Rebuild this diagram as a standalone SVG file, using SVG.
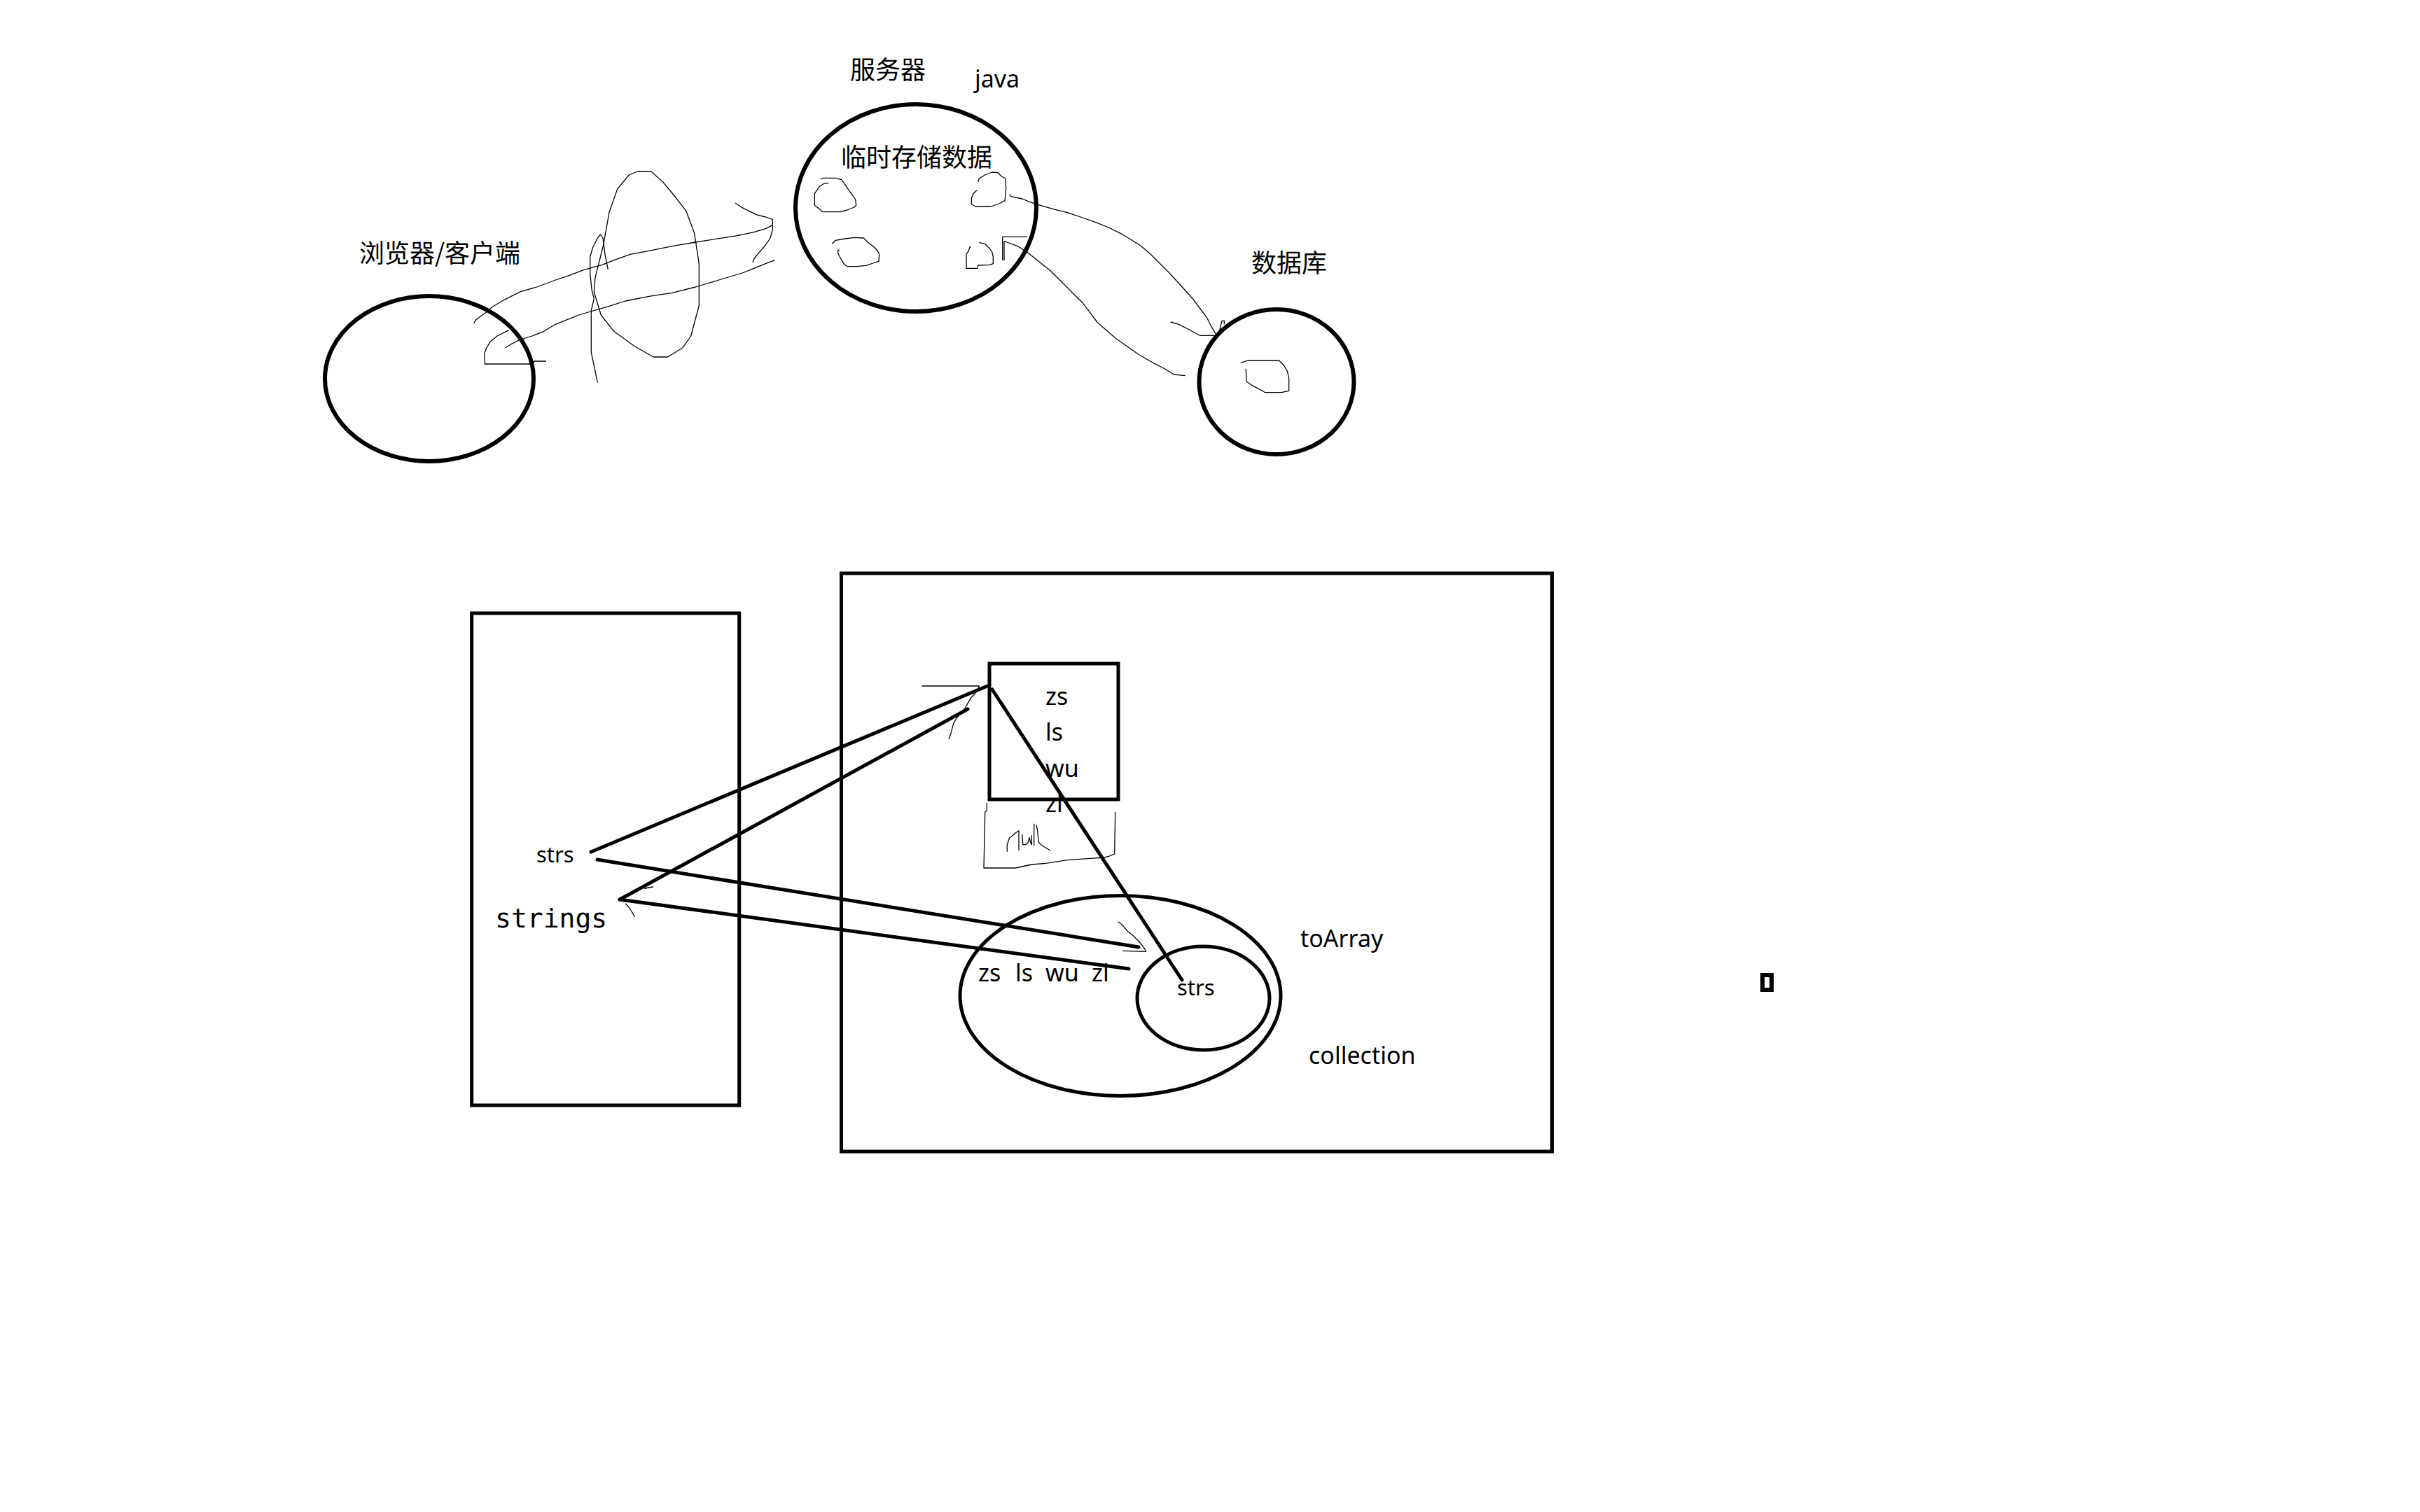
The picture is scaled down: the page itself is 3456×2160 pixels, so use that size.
<svg xmlns="http://www.w3.org/2000/svg" width="3456" height="2160" viewBox="0 0 3456 2160">
<style>
.bold{fill:none;stroke:#000;stroke-width:6}
.box{fill:none;stroke:#000;stroke-width:5}
.thick{fill:none;stroke:#000;stroke-width:5;stroke-linecap:round}
.thin{fill:none;stroke:#000;stroke-width:1.3;stroke-linejoin:round}
.cjk{font-family:"Noto Sans CJK SC","Noto Sans",sans-serif;font-size:36px;fill:#000}
.lat{font-family:"Noto Sans","Noto Sans CJK SC",sans-serif;font-size:34px;fill:#000}
.sm{font-family:"Noto Sans",sans-serif;font-size:31px;fill:#000}
.mono{font-family:"DejaVu Sans Mono","Liberation Mono",monospace;font-size:38px;fill:#000}
</style>
<rect width="3456" height="2160" fill="#fff"/>

<g id="browser">
<ellipse class="bold" cx="613" cy="541" rx="149" ry="118"/>
<text class="cjk" x="513" y="375">浏览器/客户端</text>
</g>

<g id="server">
<ellipse class="bold" cx="1308" cy="297" rx="172" ry="148"/>
<text class="cjk" x="1214" y="113">服务器</text>
<text class="lat" x="1392" y="125">java</text>
<text class="cjk" x="1201" y="238">临时存储数据</text>
<path class="thin" d="M1183.3,261.7 L1176.7,262.3 L1170,266.7 L1166.7,271.7 L1163.3,276.7 L1163.3,293.3 L1170,298.3 L1175,302.7 L1200,302.7 L1210,300 L1220,296 L1222.7,293.3 L1221.7,285 L1218.3,280 L1213.3,273.3 L1206.7,263.3 L1201.7,256.7 L1193.3,254.3 L1176.7,254.3 L1172.3,256"/>
<path class="thin" d="M1395,271.7 L1390,276.7 L1387.3,283.3 L1387.3,291.7 L1393.3,295 L1415,295 L1426.7,291 L1435,286.7 L1436.7,270 L1436,255 L1430,251.7 L1425,246.7 L1416.7,246 L1406.7,250 L1398.3,255 L1396.7,260"/>
<path class="thin" d="M1188.3,348.3 L1193.3,343.3 L1206.7,341 L1220,339.3 L1233.3,340 L1240,346.7 L1246.7,351.7 L1253.3,358.3 L1255.7,363.3 L1255,373.3 L1246.7,376 L1236.7,379.3 L1223.3,380.7 L1210,380.7 L1205,376.7 L1200,368.3 L1196.7,361.7 L1196.7,357.3 L1199,357.3"/>
<path class="thin" d="M1398.3,346.7 L1406.7,348.3 L1413.3,355 L1416.7,360 L1418.3,366.7 L1418.3,376.7 L1413.3,378.3 L1396.7,379 L1396,383.3 L1380,383.3 L1380,363.3 L1383.3,358.3 L1385,352.7 L1386.7,352.7"/>
</g>

<g id="database">
<ellipse class="bold" cx="1823" cy="545.5" rx="110.5" ry="103.5"/>
<text class="cjk" x="1787" y="389">数据库</text>
<path class="thin" d="M1771.7,518.3 L1781.7,515 L1826.7,515 L1833.3,521.7 L1838.3,530 L1840.7,540 L1840.7,558.3 L1830,560.7 L1806.7,560.7 L1800,556.7 L1790,551.7 L1780,545 L1779.3,526.7"/>
</g>

<g id="stack">
<rect class="box" x="673.7" y="876" width="382" height="703"/>
<text class="sm" x="766" y="1232">strs</text>
<text class="mono" x="707" y="1325">strings</text>
</g>

<g id="heap">
<rect class="box" x="1201.5" y="819" width="1015" height="826"/>
</g>

<g id="array">
<text class="lat" x="1493" y="1007">zs</text>
<text class="lat" x="1493" y="1058">ls</text>
<text class="lat" x="1493" y="1110">wu</text>
<text class="lat" x="1493" y="1160">zl</text>
<rect class="box" x="1413" y="948" width="184" height="194"/>
<path class="thin" d="M1409.3,1146.7 L1409.3,1158.3 L1406.7,1160 L1405,1240 L1450,1240 L1473.3,1235 L1493.3,1233.3 L1526.7,1228.3 L1553.3,1226.7 L1576.7,1225 L1583.3,1223.3 L1591.7,1220 L1592.7,1160"/>
<path class="thin" d="M1438.3,1216.7 L1438.3,1206.7 L1441.7,1196.7 L1446.7,1193.3 L1450,1190 L1455,1186.7 L1455,1215"/>
<path class="thin" d="M1460,1191.7 L1460.7,1206.7 L1465,1206.7 L1468.3,1203.3 L1470,1196.7 L1471.7,1203.3 L1473.3,1206.7 L1473.3,1193.3"/>
<path class="thin" d="M1476.7,1176.7 L1476.7,1208.3"/>
<path class="thin" d="M1480,1178.3 L1481.7,1186.7 L1483.3,1203.3 L1486.7,1206.7 L1491.7,1210 L1500,1215"/>
</g>

<g id="collection">
<ellipse class="box" cx="1600" cy="1422.5" rx="229" ry="143"/>
<text class="lat" x="1397" y="1402">zs</text>
<text class="lat" x="1450" y="1402">ls</text>
<text class="lat" x="1493" y="1402">wu</text>
<text class="lat" x="1559" y="1402">zl</text>
<text class="lat" x="1869" y="1520">collection</text>
</g>

<g id="toArray">
<ellipse class="box" cx="1718.5" cy="1426" rx="94.5" ry="74"/>
<text class="sm" x="1681" y="1422">strs</text>
<text class="lat" x="1857" y="1353">toArray</text>
</g>

<g id="marker-box">
<rect x="2517" y="1393" width="13" height="21" fill="none" stroke="#000" stroke-width="6"/>
</g>

<g id="connectors">
<!-- browser <-> server sketch -->
<path class="thin" d="M910,245 L930,245 L946.7,260 L963.3,280 L980,301.7 L991.7,333.3 L998.3,376.7 L998.3,436.7 L986.7,480 L975,496.7 L953.3,510 L933.3,510 L906.7,495 L876.7,473.3 L858.3,450 L848.3,416.7 L850,396.7 L861.7,350 L870,303.3 L881.7,270 L898.3,250 Z"/>
<path class="thin" d="M868.3,385 L864,363.3 L861,340 L857.7,335 L853.3,340 L846.7,353.3 L842.7,366.7 L842.7,390 L845,413.3 L848.3,426.7 L844.3,443.3 L844.3,503.3 L849.3,526.7 L853.3,546.7"/>
<path class="thin" d="M676.7,461.7 L680,456.7 L693.3,446.7 L703.3,438.3 L720,428.3 L743.3,416.7 L766.7,410 L793.3,400 L813.3,393.3 L833.3,385.7 L860,378.3 L876.7,371.7 L900,363.3 L926.7,358.3 L960,351.7 L993.3,346 L1010,343.3 L1053.3,336.7 L1076.7,331.7 L1093.3,326.7 L1103.3,321.7"/>
<path class="thin" d="M1050,290 L1060,296.7 L1080,306.7 L1093.3,310 L1103.3,313.3 L1103.3,328 L1100,340 L1093.3,350 L1083.3,361.7 L1076.7,370 L1075,375"/>
<path class="thin" d="M721.7,496.7 L730,491.7 L743.3,485 L760,480 L776.7,473.3 L793.3,463.3 L810,456.7 L826.7,450 L843.3,445 L866.7,438.3 L893.3,430 L926.7,423.3 L960,418.3 L993.3,410 L1026.7,400 L1060,390 L1076.7,383.3 L1093.3,376.7 L1106.7,371.7"/>
<path class="thin" d="M726.7,471.7 L710,480 L700,488.3 L695,496.7 L692.3,503.3 L692.3,520 L760,520 L763.3,516 L780,516"/>
<!-- server <-> database sketch -->
<path class="thin" d="M1441.7,277.3 L1443.3,280.7 L1460,284 L1470,288.3 L1483.3,292.7 L1506.7,299.3 L1523.3,303.3 L1543.3,310 L1566.7,318.3 L1583.3,325 L1600,333.3 L1616.7,343.3 L1630,351.7 L1643.3,363.3 L1656.7,376.7 L1670,390 L1686.7,408.3 L1703.3,426.7 L1713.3,440 L1723.3,453.3 L1730,466.7 L1736,476.7"/>
<path class="thin" d="M1671.7,460 L1683.3,463.3 L1696.7,470 L1713.3,479.3 L1736.7,479.3"/>
<path class="thin" d="M1741.7,471.7 L1745,458.3 L1748.3,458.3 L1748.3,463.3"/>
<path class="thin" d="M1466.7,338.3 L1431.7,338.3 L1431.7,372"/>
<path class="thin" d="M1434,372 L1434,345 L1436.5,345"/>
<path class="thin" d="M1435,345 L1453.3,351.7 L1466.7,360 L1483.3,373.3 L1500,386.7 L1516.7,403.3 L1533.3,420 L1546.7,433.3 L1556.7,446.7 L1566.7,460 L1580,471.7 L1593.3,483.3 L1610,495 L1626.7,506.7 L1646.7,518.3 L1660,525 L1676.7,535 L1692.7,536.7"/>
<!-- stack -> heap references -->
<line class="thick" x1="844" y1="1217" x2="1410" y2="980"/>
<line class="thick" x1="885" y1="1285" x2="1382" y2="1013"/>
<line class="thick" x1="853" y1="1228" x2="1626" y2="1353"/>
<line class="thick" x1="885" y1="1285" x2="1612" y2="1384"/>
<line class="thick" x1="1417" y1="985" x2="1688" y2="1400"/>
<path class="thin" d="M1316.7,980 L1398.3,980 L1396.7,985 L1391.7,991.7 L1386.7,996.7 L1380,1008.3 L1378.3,1011.7 L1366.7,1025 L1361.7,1033.3 L1358.3,1046.7 L1355,1056"/>
<path class="thin" d="M1596.7,1316.7 L1603.3,1321.7 L1610,1330 L1618.3,1336.7 L1626.7,1345 L1633.3,1353.3 L1636.7,1359.3 L1603.3,1358.3"/>
<path class="thin" d="M893.3,1290.8 L898,1296 L902,1302 L906.7,1310"/>
<path class="thin" d="M920,1269.5 L926,1268 L933,1267"/>
</g>
</svg>
